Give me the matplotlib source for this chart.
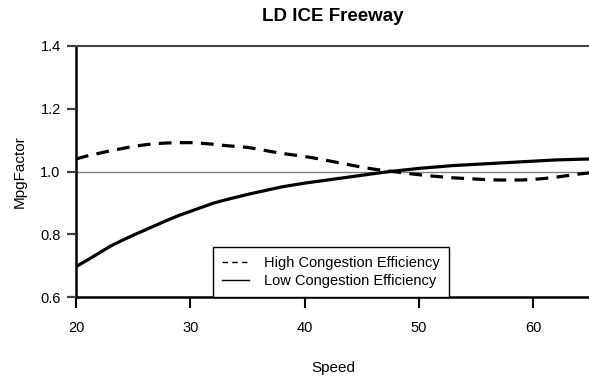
import numpy as np
import matplotlib.pyplot as plt
from matplotlib.lines import Line2D

plt.rcParams['font.family'] = ['Liberation Sans', 'DejaVu Sans']

# speed in mph, 1 mph steps
speed = np.arange(20, 66)

high_cong = [1.040, 1.050, 1.058, 1.066, 1.073, 1.080, 1.085, 1.089, 1.091, 1.092,
             1.092, 1.090, 1.087, 1.083, 1.080, 1.077, 1.071, 1.064, 1.058, 1.053,
             1.048, 1.042, 1.035, 1.028, 1.021, 1.014, 1.008, 1.003, 0.999, 0.994,
             0.990, 0.986, 0.983, 0.980, 0.978, 0.976, 0.974, 0.973, 0.973, 0.973,
             0.975, 0.978, 0.982, 0.987, 0.992, 0.996]

low_cong = [0.697, 0.718, 0.740, 0.762, 0.780, 0.797, 0.813, 0.829, 0.845, 0.860,
            0.873, 0.886, 0.899, 0.909, 0.918, 0.927, 0.935, 0.943, 0.951, 0.957,
            0.963, 0.968, 0.973, 0.978, 0.983, 0.988, 0.993, 0.998, 1.002, 1.006,
            1.010, 1.013, 1.016, 1.019, 1.021, 1.023, 1.025, 1.027, 1.029, 1.031,
            1.033, 1.035, 1.037, 1.038, 1.039, 1.040]

labels = ['High Congestion Efficiency', 'Low Congestion Efficiency']
xticks = [20, 30, 40, 50, 60]
yticks = [0.6, 0.8, 1.0, 1.2, 1.4]

fig = plt.figure(figsize=(5.89, 3.77), dpi=100)
ax = fig.add_axes([0.129, 0.212, 0.873, 0.666])

ax.axhline(1.0, color='#808080', lw=1.0, zorder=1)
ax.plot(speed, high_cong, color='black', lw=2.3, ls=(0, (4.0, 2.6)), zorder=3)
ax.plot(speed, low_cong, color='black', lw=2.3, zorder=3)

ax.set_xlim(20, 65)
ax.set_ylim(0.6, 1.4)
ax.set_xticks(xticks)
ax.set_yticks(yticks)
ax.set_yticklabels([f'{v:.1f}' for v in yticks])
ax.tick_params(length=0, labelsize=10.5, labelcolor='black')
ax.tick_params(axis='x', pad=17)
ax.tick_params(axis='y', pad=11)

# outward tick marks drawn as short line segments
for t in xticks:
    ax.plot([t, t], [0, -0.042], transform=ax.get_xaxis_transform(),
             color='black', lw=1.5, clip_on=False, zorder=4,
             solid_capstyle='butt')
for t in yticks:
    ax.plot([-0.017, 0], [t, t], transform=ax.get_yaxis_transform(),
             color='#404040', lw=1.6, clip_on=False, zorder=4,
             solid_capstyle='butt')

for side in ['left', 'bottom']:
    ax.spines[side].set_linewidth(1.8)
    ax.spines[side].set_color('black')
ax.spines['top'].set_linewidth(1.5)
ax.spines['top'].set_color('#444444')
ax.spines['right'].set_visible(False)

ax.set_title('LD ICE Freeway', fontsize=13.5, fontweight='bold', pad=18)
ax.set_xlabel('Speed', fontsize=11, labelpad=19)
ax.set_ylabel('MpgFactor', fontsize=11, labelpad=10)

handles = [Line2D([], [], color='black', lw=1.0, ls=(0, (4, 3))),
           Line2D([], [], color='black', lw=1.0)]
leg = ax.legend(handles, labels, loc='lower left',
                bbox_to_anchor=((213 - 76) / 514, 0.0), borderaxespad=0,
                fancybox=False, framealpha=1, edgecolor='black',
                fontsize=10.5, handlelength=1.9, handletextpad=1.0,
                labelspacing=0.3, borderpad=0.6)
leg.get_frame().set_linewidth(1.0)

fig.savefig('out.png', dpi=100)
